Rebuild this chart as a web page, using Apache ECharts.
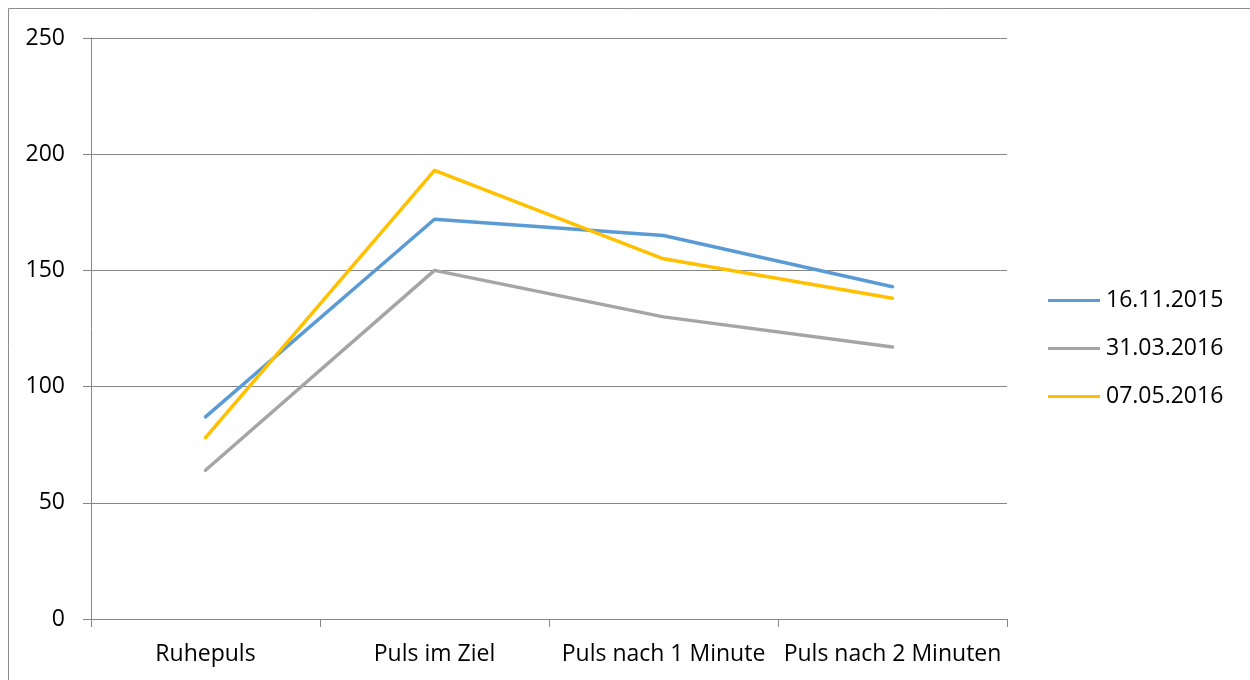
<!DOCTYPE html>
<html>
<head>
<meta charset="utf-8">
<script src="https://cdn.jsdelivr.net/npm/echarts@6/dist/echarts.min.js"></script>
<style>
  html, body { margin: 0; padding: 0; background: #ffffff; }
  #chart { width: 1250px; height: 680px; }
</style>
</head>
<body>
<div id="chart"></div>
<script>
// Pulse measurements per session
const categories = ['Ruhepuls', 'Puls im Ziel', 'Puls nach 1 Minute', 'Puls nach 2 Minuten'];
const seriesNames = ['16.11.2015', '31.03.2016', '07.05.2016'];
const values20151116 = [87, 172, 165, 143];
const values20160331 = [64, 150, 130, 117];
const values20160507 = [78, 193, 155, 138];
const yTicks = [0, 50, 100, 150, 200, 250];

const colors = ['#5B9BD5', '#A5A5A5', '#FFC000'];
const seriesData = [values20151116, values20160331, values20160507];
const axisGray = '#868686';
const font = '"Open Sans", "Liberation Sans", sans-serif';

const chart = echarts.init(document.getElementById('chart'), null, { renderer: 'canvas' });

chart.setOption({
  animation: false,
  backgroundColor: '#ffffff',
  graphic: [{
    type: 'rect',
    shape: { x: 8.5, y: 8.5, width: 1400, height: 800 },
    style: { fill: 'none', stroke: '#8c8c8c', lineWidth: 1 },
    silent: true
  }],
  grid: { left: 91, right: 243, top: 38, bottom: 61, containLabel: false },
  legend: {
    orient: 'vertical',
    left: 1048,
    top: 289,
    padding: 0,
    itemWidth: 52,
    itemHeight: 24,
    itemGap: 25,
    icon: 'path://M0,10.5 L52,10.5 L52,13.5 L0,13.5 Z',
    textStyle: { fontFamily: font, fontSize: 23, color: '#000000', padding: [0, 0, 0, 1] },
    data: seriesNames
  },
  xAxis: {
    type: 'category',
    data: categories,
    boundaryGap: true,
    axisLine: { lineStyle: { color: axisGray, width: 1 } },
    axisTick: { show: true, interval: 0, length: 8, lineStyle: { color: axisGray } },
    axisLabel: { interval: 0, fontFamily: font, fontSize: 23, color: '#000000', margin: 24 },
    splitLine: { show: false }
  },
  yAxis: {
    type: 'value',
    min: yTicks[0],
    max: yTicks[yTicks.length - 1],
    interval: yTicks[1] - yTicks[0],
    axisLine: { show: true, lineStyle: { color: axisGray, width: 1 } },
    axisTick: { show: true, length: 8, lineStyle: { color: axisGray } },
    axisLabel: { fontFamily: font, fontSize: 23, color: '#000000', margin: 26 },
    splitLine: { show: true, lineStyle: { color: axisGray, width: 1 } }
  },
  series: seriesNames.map((name, i) => ({
    name: name,
    type: 'line',
    data: seriesData[i],
    symbol: 'none',
    color: colors[i],
    lineStyle: { color: colors[i], width: 3.5, cap: 'round', join: 'round' },
    itemStyle: { color: colors[i] }
  }))
});
</script>
</body>
</html>
